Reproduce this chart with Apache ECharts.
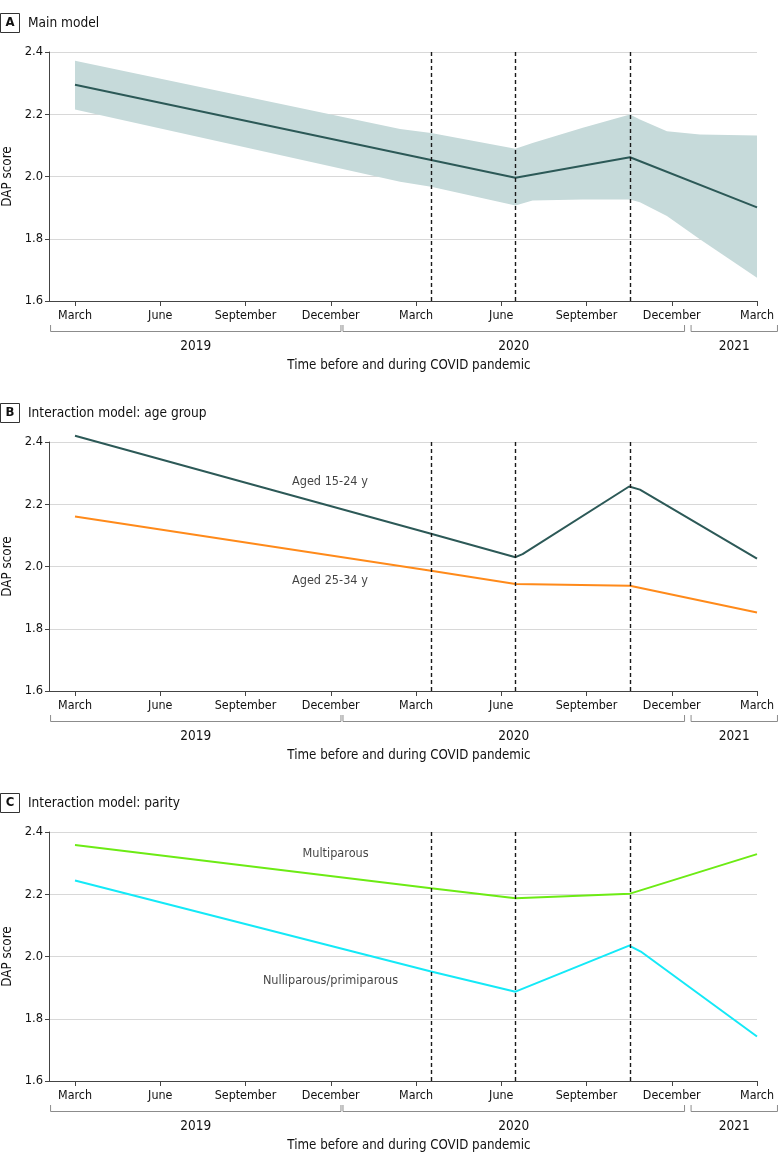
<!DOCTYPE html>
<html>
<head>
<meta charset="utf-8">
<script src="https://cdn.jsdelivr.net/npm/echarts@6/dist/echarts.min.js"></script>
<style>
html,body{margin:0;padding:0;background:#fff;}
#chart{width:783px;height:1164px;}
</style>
</head>
<body>
<div id="chart"></div>
<script>
// ---- data (x = months since March 2019) ----
const tickMonths = [0, 3, 6, 9, 12, 15, 18, 21, 24];
const tickLabels = ['March', 'June', 'September', 'December', 'March', 'June', 'September', 'December', 'March'];
const yearLabels = ['2019', '2020', '2021'];
const yearStart = [-0.86, 9.43, 21.68];
const yearEnd = [9.36, 21.45, 24.72];
const breakMonths = [12.53, 15.5, 19.55];
const panelLetters = ['A', 'B', 'C'];
const panelTitles = ['Main model', 'Interaction model: age group', 'Interaction model: parity'];

// Panel A: main model
const mainX = [0, 12.53, 15.5, 19.53, 24];
const mainY = [2.295, 2.053, 1.996, 2.062, 1.901];
const ciX = [0, 11.44, 12.53, 15.5, 16.1, 17.87, 19.53, 19.88, 20.83, 21.99, 24];
const ciUpper = [2.372, 2.153, 2.140, 2.089, 2.108, 2.157, 2.199, 2.183, 2.145, 2.135, 2.132];
const ciLower = [2.215, 1.983, 1.967, 1.907, 1.923, 1.926, 1.926, 1.917, 1.873, 1.798, 1.675];

// Panel B: age group
const youngX = [0, 12.53, 15.5, 15.75, 19.5, 19.88, 24];
const youngY = [2.420, 2.105, 2.030, 2.040, 2.257, 2.247, 2.025];
const olderX = [0, 12.53, 15.5, 19.53, 24];
const olderY = [2.161, 1.986, 1.944, 1.938, 1.852];

// Panel C: parity
const multiX = [0, 12.53, 15.5, 19.53, 24];
const multiY = [2.358, 2.219, 2.187, 2.202, 2.329];
const nulliX = [0, 12.53, 15.5, 19.5, 19.91, 24];
const nulliY = [2.244, 1.952, 1.887, 2.035, 2.016, 1.743];

// in-plot labels
const seriesLabels = [
  {panel: 1, text: 'Aged 15-24 y', x: 8.97, y: 2.272},
  {panel: 1, text: 'Aged 25-34 y', x: 8.97, y: 1.954},
  {panel: 2, text: 'Multiparous', x: 9.17, y: 2.330},
  {panel: 2, text: 'Nulliparous/primiparous', x: 8.99, y: 1.922}
];

// ---- styling ----
const FONT = '"Liberation Sans Narrow", "DejaVu Sans Condensed", "Open Sans", sans-serif';
const gridTops = [52, 442, 832];
const gridH = 249;
const gridLeft = 49;
const gridW = 708;
const C_DARK = '#2c5957';
const C_BAND = '#c6dada';
const C_ORANGE = '#ff8a1a';
const C_GREEN = '#6ceb14';
const C_CYAN = '#14e9f7';
const C_TEXT = '#111';

const zip = (xs, ys) => xs.map((x, i) => [x, ys[i]]);

const chart = echarts.init(document.getElementById('chart'), null, {renderer: 'canvas'});

const grids = [], xAxes = [], yAxes = [];
for (let i = 0; i < 3; i++) {
  grids.push({left: gridLeft, top: gridTops[i], width: gridW, height: gridH, containLabel: false, outerBoundsMode: 'none'});
  xAxes.push({
    type: 'value', gridIndex: i, min: -0.915, max: 24,
    splitLine: {show: false},
    axisLine: {show: true, onZero: false, lineStyle: {color: '#444', width: 1}},
    axisTick: {show: true, customValues: tickMonths, length: 5, lineStyle: {color: '#444'}},
    axisLabel: {
      customValues: tickMonths, margin: 9, color: C_TEXT, fontSize: 12.4, fontFamily: FONT,
      formatter: v => tickLabels[tickMonths.indexOf(Math.round(v))]
    }
  });
  yAxes.push({
    type: 'value', gridIndex: i, min: 1.6, max: 2.4, interval: 0.2,
    name: 'DAP score', nameLocation: 'middle', nameGap: 32, nameRotate: 90,
    nameTextStyle: {color: C_TEXT, fontSize: 13.3, fontFamily: FONT},
    axisLine: {show: true, onZero: false, lineStyle: {color: '#444', width: 1}},
    axisTick: {show: true, length: 4, lineStyle: {color: '#444'}},
    axisLabel: {color: C_TEXT, fontSize: 12.8, fontFamily: FONT, margin: 6, formatter: v => v.toFixed(1)},
    splitLine: {show: true, lineStyle: {color: '#d8d8d8', width: 1}}
  });
}

const lineSeries = (i, xs, ys, color) => ({
  type: 'line', xAxisIndex: i, yAxisIndex: i, data: zip(xs, ys), clip: false,
  symbol: 'none', lineStyle: {color: color, width: 2}, z: 3, silent: true
});

const series = [];
// CI band (panel A)
series.push({
  type: 'custom', xAxisIndex: 0, yAxisIndex: 0, z: 1, silent: true, clip: false,
  data: ciX.map((x, i) => [x, ciLower[i], ciUpper[i]]),
  renderItem: function (params, api) {
    if (params.dataIndex !== 0) return null;
    const pts = [];
    for (let k = 0; k < ciX.length; k++) pts.push(api.coord([ciX[k], ciUpper[k]]));
    for (let k = ciX.length - 1; k >= 0; k--) pts.push(api.coord([ciX[k], ciLower[k]]));
    return {type: 'polygon', shape: {points: pts}, style: {fill: C_BAND, stroke: null}};
  }
});
series.push(lineSeries(0, mainX, mainY, C_DARK));
series.push(lineSeries(1, youngX, youngY, C_DARK));
series.push(lineSeries(1, olderX, olderY, C_ORANGE));
series.push(lineSeries(2, multiX, multiY, C_GREEN));
series.push(lineSeries(2, nulliX, nulliY, C_CYAN));

// dashed break lines
for (let i = 0; i < 3; i++) {
  series.push({
    type: 'line', xAxisIndex: i, yAxisIndex: i, data: [], z: 5, silent: true,
    markLine: {
      symbol: 'none', silent: true, animation: false,
      label: {show: false},
      lineStyle: {color: '#1a1a1a', width: 1.4, type: [4, 3]},
      data: breakMonths.map(m => ({xAxis: m}))
    }
  });
}

// in-plot text labels
seriesLabels.forEach(l => {
  series.push({
    type: 'scatter', xAxisIndex: l.panel, yAxisIndex: l.panel, silent: true, z: 6,
    symbolSize: 1, itemStyle: {color: 'rgba(0,0,0,0)'},
    data: [{value: [l.x, l.y], name: l.text}],
    label: {show: true, position: 'inside', formatter: '{b}', color: C_TEXT, fontSize: 12.6, fontFamily: FONT}
  });
});

chart.setOption({
  animation: false,
  backgroundColor: '#fff',
  grid: grids, xAxis: xAxes, yAxis: yAxes, series: series
});

// ---- decorations: panel headers, year brackets, axis title ----
const graphics = [];
for (let i = 0; i < 3; i++) {
  const top = gridTops[i];
  const axisY = top + gridH;
  graphics.push({
    type: 'rect', shape: {x: 0.5, y: top - 38.5, width: 19, height: 19},
    style: {fill: '#fff', stroke: '#333', lineWidth: 1}
  });
  graphics.push({
    type: 'text', x: 10, y: top - 29,
    style: {text: panelLetters[i], fontSize: 13, fontWeight: 'bold', fontFamily: FONT, fill: '#111', align: 'center', verticalAlign: 'middle'}
  });
  graphics.push({
    type: 'text', x: 28, y: top - 29,
    style: {text: panelTitles[i], fontSize: 13.6, fontFamily: FONT, fill: C_TEXT, align: 'left', verticalAlign: 'middle'}
  });
  for (let k = 0; k < yearLabels.length; k++) {
    const x0 = chart.convertToPixel({xAxisIndex: i}, yearStart[k]);
    const x1 = chart.convertToPixel({xAxisIndex: i}, yearEnd[k]);
    graphics.push({
      type: 'polyline',
      shape: {points: [[x0, axisY + 24], [x0, axisY + 30.5], [x1, axisY + 30.5], [x1, axisY + 24]]},
      style: {stroke: '#8c8c8c', lineWidth: 1, fill: null}
    });
    graphics.push({
      type: 'text', x: (x0 + x1) / 2, y: axisY + 45,
      style: {text: yearLabels[k], fontSize: 13.5, fontFamily: FONT, fill: C_TEXT, align: 'center', verticalAlign: 'middle'}
    });
  }
  graphics.push({
    type: 'text', x: 409, y: axisY + 65,
    style: {text: 'Time before and during COVID pandemic', fontSize: 13.2, fontFamily: FONT, fill: C_TEXT, align: 'center', verticalAlign: 'middle'}
  });
}
chart.setOption({graphic: graphics});
</script>
</body>
</html>
